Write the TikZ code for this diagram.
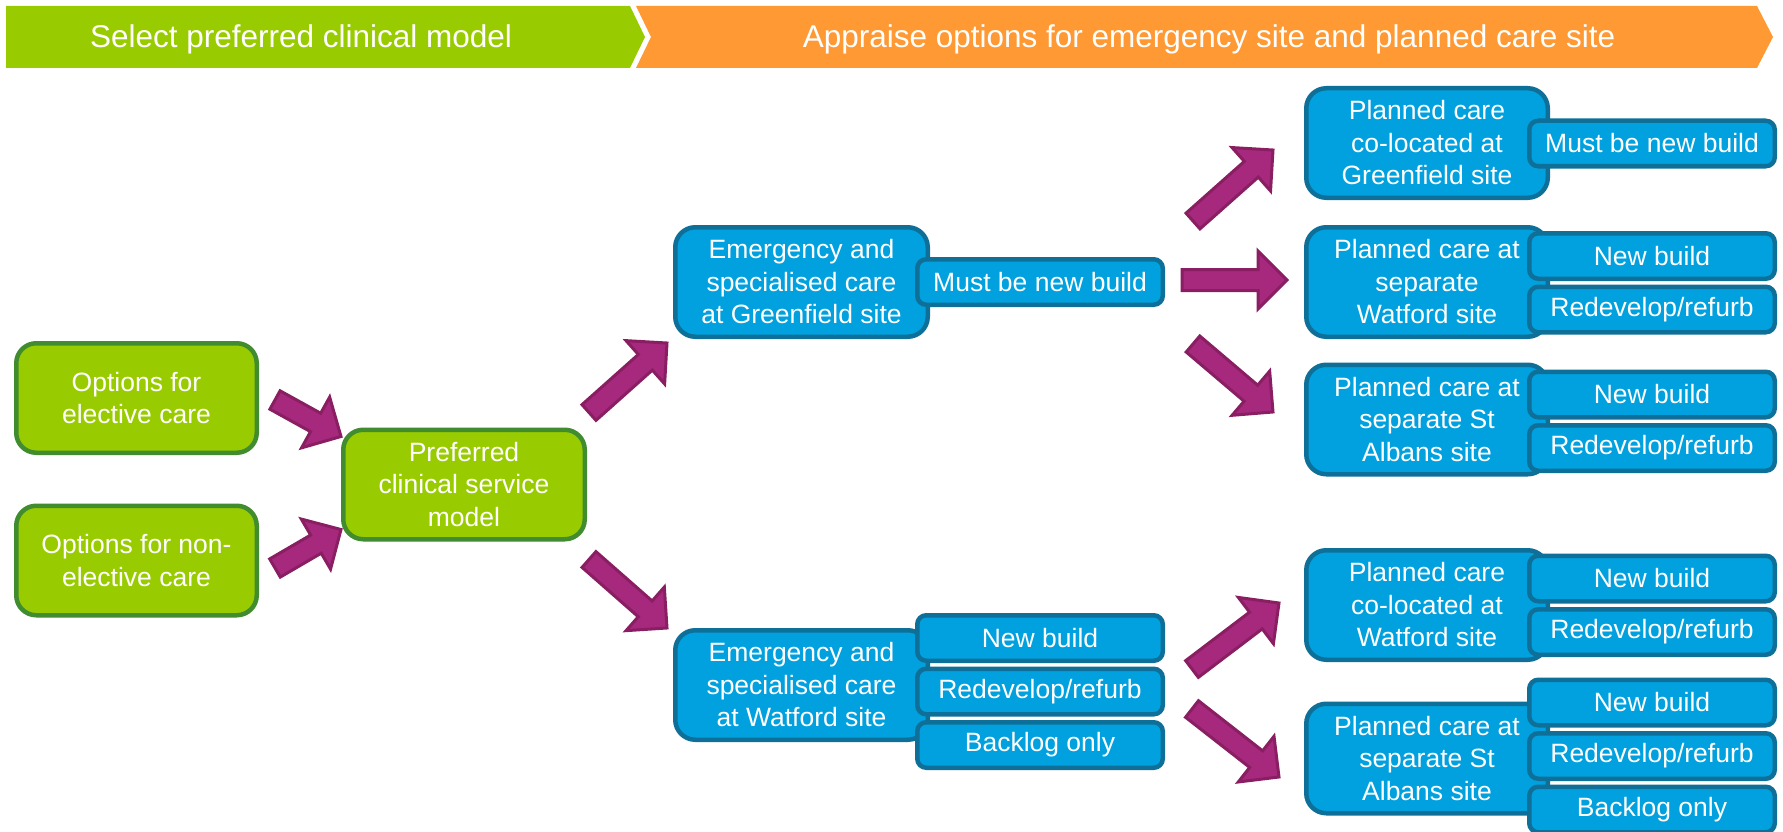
\documentclass[tikz,border=0pt]{standalone}
\usepackage{fontspec}
\setmainfont{Liberation Sans}
\usetikzlibrary{positioning, calc}

\definecolor{leafgreen}{RGB}{153,204,0}
\definecolor{leafline}{RGB}{64,140,46}
\definecolor{headorange}{RGB}{255,153,51}
\definecolor{skyblue}{RGB}{0,161,222}
\definecolor{skyline}{RGB}{14,112,152}
\definecolor{plum}{RGB}{166,41,125}
\definecolor{plumline}{RGB}{138,30,98}

\newcommand{\boxfont}{\fontsize{26.5}{32.5}\selectfont}
\newcommand{\headfont}{\fontsize{31.5}{36}\selectfont}

\tikzset{
  greenbox/.style={draw=leafline, fill=leafgreen, line width=4.5, rounded corners=20,
    minimum width=240.5, minimum height=109.5, align=center, text=white, font=\boxfont, inner sep=2},
  bluebox/.style={greenbox, draw=skyline, fill=skyblue},
  optbox/.style={bluebox, rounded corners=9, minimum width=245.5, minimum height=45.5},
  arrowline/.style={draw=plumline, fill=plum, line width=3, line join=miter},
}

% block arrow from tail point to tip point
\newcommand{\fatarrow}[2]{%
  \path (#1) coordinate (fa tail) (#2) coordinate (fa tip);
  \path let \p1=(fa tail), \p2=(fa tip) in \pgfextra{%
    \pgfmathsetmacro\faang{atan2(\y2-\y1,\x2-\x1)}\xdef\faang{\faang}%
    \pgfmathsetmacro\falen{veclen(\x2-\x1,\y2-\y1)}\xdef\falen{\falen}};
  \draw[arrowline, shift={(fa tail)}, rotate=\faang] (0,-10.5) -- (\falen-29,-10.5) -- (\falen-29,-29)
    -- (\falen,0) -- (\falen-29,29) -- (\falen-29,10.5) -- (0,10.5) -- cycle;
}

\begin{document}
\begin{tikzpicture}[x=1pt, y=-1pt]
    \useasboundingbox (0,0) rectangle (1783,832);

    % header bar
    \fill[leafgreen] (6,6) -- (630,6) -- (645,37) -- (630,68) -- (6,68) -- cycle;
    \fill[headorange] (636,6) -- (1757,6) -- (1773,37) -- (1757,68) -- (636,68) -- (651,37) -- cycle;
    \node[text=white, font=\headfont] (head 1) at (301,39) {Select preferred clinical model};
    \node[text=white, font=\headfont] (head 2) at (1209,39) {Appraise options for emergency site and planned care site};

    % clinical model
    \node[greenbox] (opt 1) at (136.5,398) {Options for\\elective care};
    \node[greenbox] (opt 2) at (136.5,560.5) {Options for non-\\elective care};
    \node[greenbox, minimum width=241.5] (model) at (464,484.5) {Preferred\\clinical service\\model};

    % emergency sites
    \node[bluebox, minimum width=252.5] (em 1) at (801.5,282) {Emergency and\\specialised care\\at Greenfield site};
    \node[bluebox, minimum width=252.5] (em 2) at (801.5,685) {Emergency and\\specialised care\\at Watford site};
    \node[optbox, anchor=east] (gf 1) at (1165,282) {Must be new build};
    \node[optbox, anchor=east] (w 1) at (1165,638) {New build};
    \node[optbox, below=3.5pt of w 1] (w 2) {Redevelop/refurb};
    \node[optbox, below=3.5pt of w 2] (w 3) {Backlog only};

    % planned care sites
    \node[bluebox, minimum width=241.5] (pc 1) at (1427,143) {Planned care\\co-located at\\Greenfield site};
    \node[bluebox, minimum width=241.5] (pc 2) at (1427,282) {Planned care at\\separate\\Watford site};
    \node[bluebox, minimum width=241.5] (pc 3) at (1427,419.5) {Planned care at\\separate St\\Albans site};
    \node[bluebox, minimum width=241.5] (pc 4) at (1427,605) {Planned care\\co-located at\\Watford site};
    \node[bluebox, minimum width=241.5] (pc 5) at (1427,758.5) {Planned care at\\separate St\\Albans site};

    \node[optbox, anchor=east] (r 1) at (1777,143.5) {Must be new build};
    \node[optbox, anchor=east] (r 2) at (1777,256) {New build};
    \node[optbox, below=3.5pt of r 2] (r 3) {Redevelop/refurb};
    \node[optbox, anchor=east] (r 4) at (1777,394.5) {New build};
    \node[optbox, below=3.5pt of r 4] (r 5) {Redevelop/refurb};
    \node[optbox, anchor=east] (r 6) at (1777,578.5) {New build};
    \node[optbox, below=3.5pt of r 6] (r 7) {Redevelop/refurb};
    \node[optbox, anchor=east] (r 8) at (1777,702.5) {New build};
    \node[optbox, below=3.5pt of r 8] (r 9) {Redevelop/refurb};
    \node[optbox, below=3.5pt of r 9] (r 10) {Backlog only};

    % arrows
    \fatarrow{$(opt 1.east)+(16,2)$}{$(model.north west)+(0,9)$}
    \fatarrow{$(opt 2.east)+(16,7.5)$}{$(model.south west)+(0,-12)$}
    \fatarrow{$(model.north east)+(2,-15)$}{$(em 1.south west)+(-6,4)$}
    \fatarrow{$(model.south east)+(2,18)$}{$(em 2.north west)+(-6,0)$}
    \fatarrow{$(gf 1.north east)+(28,-36)$}{$(pc 1.west)+(-31,7)$}
    \fatarrow{$(gf 1.east)+(17,-2)$}{$(pc 2.west)+(-17,-2)$}
    \fatarrow{$(gf 1.south east)+(28,37)$}{$(pc 3.west)+(-31,-7.5)$}
    \fatarrow{$(w 2.east)+(27,-22.5)$}{$(pc 4.west)+(-25,-2)$}
    \fatarrow{$(w 2.east)+(27,17.5)$}{$(pc 5.west)+(-25,18.5)$}
\end{tikzpicture}
\end{document}
